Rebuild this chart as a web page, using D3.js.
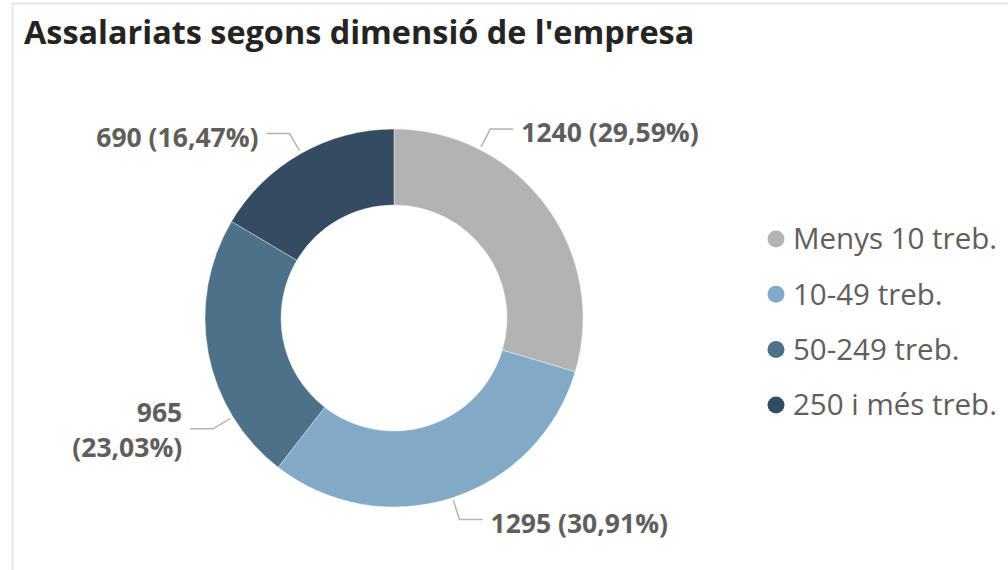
<!DOCTYPE html>
<html>
<head>
<meta charset="utf-8">
<script src="https://cdn.jsdelivr.net/npm/d3@7"></script>
<style>
  body { margin: 0; background: #fff; font-family: 'Segoe UI', 'Open Sans', sans-serif; }
</style>
</head>
<body>
<div id="chart"></div>
<script>
const categories = ['Menys 10 treb.', '10-49 treb.', '50-249 treb.', '250 i més treb.'];
const values = [1240, 1295, 965, 690];
const percentLabels = ['29,59%', '30,91%', '23,03%', '16,47%'];
const colors = ['#b3b3b3', '#80aac6', '#4d7189', '#344c62'];

// where each data label's leader line leaves the ring (degrees from top, clockwise)
const leaderAngles = [27, 162, 238.5, 330.5];
const wrapLabel = [false, false, true, false];

const width = 1008;
const height = 570;
const cx = 394;
const cy = 318;
const outerR = 189;
const innerR = 113;

const svg = d3.select('#chart')
  .append('svg')
  .attr('width', width)
  .attr('height', height);

// light frame
svg.append('rect')
  .attr('x', 12.5)
  .attr('y', 3.5)
  .attr('width', width + 20)
  .attr('height', height + 20)
  .attr('fill', 'none')
  .attr('stroke', '#e6e6e6')
  .attr('stroke-width', 2);

svg.append('text')
  .attr('x', 24)
  .attr('y', 44)
  .attr('font-size', 32.4)
  .attr('font-weight', 700)
  .attr('fill', '#252423')
  .text("Assalariats segons dimensió de l'empresa");

const pie = d3.pie().sort(null).value(d => d);
const arcs = pie(values);

const arc = d3.arc().innerRadius(innerR).outerRadius(outerR);

const g = svg.append('g')
  .attr('transform', 'translate(' + cx + ',' + cy + ')');

g.selectAll('.slice')
  .data(arcs)
  .enter()
  .append('path')
  .attr('class', 'slice')
  .attr('d', arc)
  .attr('fill', (d, i) => colors[i])
  .attr('stroke', '#fff')
  .attr('stroke-width', 0.4);

const polar = (r, deg) => {
  const a = deg * Math.PI / 180;
  return [r * Math.sin(a), -r * Math.cos(a)];
};

arcs.forEach((d, i) => {
  const ang = leaderAngles[i];
  const p0 = polar(outerR + 3, ang);
  const p1 = polar(outerR + 23, ang);
  const right = Math.sin(ang * Math.PI / 180) > 0;
  const p2 = [p1[0] + (right ? 23 : -23), p1[1]];

  g.append('polyline')
    .attr('points', [p0, p1, p2].map(p => p.join(',')).join(' '))
    .attr('fill', 'none')
    .attr('stroke', '#b3b3b3')
    .attr('stroke-width', 1.5);

  const label = g.append('text')
    .attr('x', p2[0] + (right ? 8 : -8))
    .attr('y', p1[1])
    .attr('text-anchor', right ? 'start' : 'end')
    .attr('font-size', 26.5)
    .attr('font-weight', 700)
    .attr('fill', '#605e5c');

  const main = values[i] + '';
  const pct = '(' + percentLabels[i] + ')';
  if (wrapLabel[i]) {
    label.append('tspan').attr('x', p2[0] - 8).attr('dy', -7).text(main);
    label.append('tspan').attr('x', p2[0] - 8).attr('dy', 35).text(pct);
  } else {
    label.attr('dy', '0.35em').attr('y', p1[1] + 4).text(main + ' ' + pct);
  }
});

const legend = svg.append('g')
  .attr('transform', 'translate(776, 239)');

const rows = legend.selectAll('.row')
  .data(categories)
  .enter()
  .append('g')
  .attr('class', 'row')
  .attr('transform', (d, i) => 'translate(0,' + (i * 55.3) + ')');

rows.append('circle')
  .attr('r', 8.5)
  .attr('fill', (d, i) => colors[i]);

rows.append('text')
  .attr('x', 17)
  .attr('dy', '0.35em')
  .attr('font-size', 29.5)
  .attr('fill', '#605e5c')
  .text(d => d);
</script>
</body>
</html>
